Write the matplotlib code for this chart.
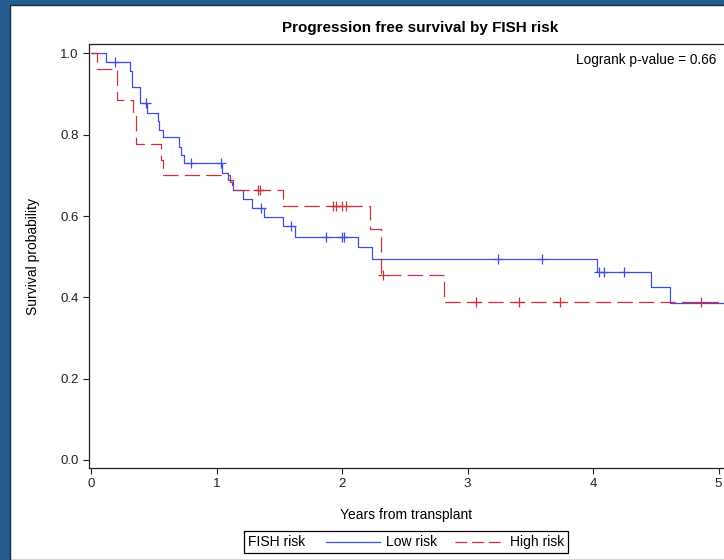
import numpy as np
import matplotlib
matplotlib.use('Agg')
import matplotlib.pyplot as plt
from matplotlib.patches import Rectangle
from matplotlib.lines import Line2D
from matplotlib.offsetbox import AnchoredOffsetbox, HPacker, TextArea, DrawingArea

plt.rcParams['font.family'] = ['Liberation Sans', 'DejaVu Sans']
plt.rcParams['lines.scale_dashes'] = False

# --- Kaplan-Meier step data ---
low_times = [0, 0.12, 0.31, 0.33, 0.39, 0.445, 0.53, 0.54, 0.57, 0.70, 0.72, 0.74,
             1.04, 1.09, 1.13, 1.21, 1.28, 1.38, 1.53, 1.625, 2.13, 2.24, 4.03, 4.46, 4.61]
low_surv = [1.0, 0.979, 0.958, 0.917, 0.877, 0.854, 0.834, 0.813, 0.794, 0.769, 0.750, 0.730,
            0.707, 0.690, 0.664, 0.641, 0.621, 0.599, 0.576, 0.549, 0.523, 0.495, 0.463, 0.426, 0.386]
low_censor = [0.19, 0.435, 0.80, 1.035, 1.355, 1.59, 1.87, 2.00, 2.015, 3.24, 3.59, 4.045, 4.09, 4.25]

high_times = [0, 0.05, 0.21, 0.335, 0.355, 0.56, 0.575, 1.105, 1.125, 1.53, 2.22, 2.31, 2.81]
high_surv = [1.0, 0.961, 0.886, 0.849, 0.777, 0.738, 0.701, 0.683, 0.664, 0.625, 0.568, 0.455, 0.389]
high_censor = [1.33, 1.35, 1.93, 1.95, 2.00, 2.03, 2.33, 3.07, 3.41, 3.74, 4.86]

t_end = 5.2
low_col = '#3b4fe0'
high_col = '#c8303c'


def surv_at(times, surv, t):
    idx = np.searchsorted(times, t, side='right') - 1
    return np.array(surv)[idx]


fig = plt.figure(figsize=(7.24, 5.60), dpi=100, facecolor='#255b8d')
fig.patches.append(Rectangle((10 / 724, 0), 1.0, 1 - 5 / 560, transform=fig.transFigure,
                             facecolor='white', edgecolor='#10304f', lw=1.0, zorder=-10))

ax = fig.add_axes([89 / 724, 1 - 468 / 560, (730 - 89) / 724, (468 - 44) / 560])
ax.set_facecolor('white')

# --- curves ---
ax.step(low_times + [t_end], low_surv + [low_surv[-1]], where='post', color=low_col, lw=0.9)
ax.step(high_times + [t_end], high_surv + [high_surv[-1]], where='post', color=high_col,
        lw=0.9, dashes=(11, 4.5))
ax.plot(low_censor, surv_at(low_times, low_surv, low_censor), '+', color=low_col, ms=7, mew=0.9)
ax.plot(high_censor, surv_at(high_times, high_surv, high_censor), '+', color=high_col, ms=7, mew=0.9)

ax.set_xlim((89 - 91) / 125.5, (730 - 91) / 125.5)
ax.set_ylim((460 - 468) / 406.5, (460 - 44) / 406.5)
ax.set_xticks([0, 1, 2, 3, 4, 5])
ax.set_yticks([0.0, 0.2, 0.4, 0.6, 0.8, 1.0])
ax.set_yticklabels(['0.0', '0.2', '0.4', '0.6', '0.8', '1.0'])
ax.tick_params(direction='out', length=4.5, width=0.8, labelsize=9.5, pad=3, colors='#222222')
for s in ax.spines.values():
    s.set_linewidth(0.9)
    s.set_color('#222222')

# --- texts ---
fig.text(420 / 724, 1 - 28 / 560, 'Progression free survival by FISH risk', ha='center', va='center',
         fontsize=11, fontweight='bold')
fig.text(716 / 724, 1 - 60 / 560, 'Logrank p-value = 0.66', ha='right', va='center', fontsize=9.8)
fig.text(406 / 724, 1 - 515 / 560, 'Years from transplant', ha='center', va='center', fontsize=10)
fig.text(33 / 724, 1 - 257 / 560, 'Survival probability', ha='center', va='center',
         rotation=90, fontsize=10)

# --- legend ---
da1 = DrawingArea(58.3, 8, 0, 0)
da1.add_artist(Line2D([15.1, 54.0], [4, 4], color=low_col, lw=0.9))
da2 = DrawingArea(51.8, 8, 0, 0)
da2.add_artist(Line2D([12.2, 44.6], [4, 4], color=high_col, lw=0.9, dashes=(8.5, 3.5)))
items = [TextArea('FISH risk', textprops=dict(fontsize=10)), da1,
         TextArea('Low risk', textprops=dict(fontsize=10)), da2,
         TextArea('High risk', textprops=dict(fontsize=10))]
box = HPacker(children=items, align='center', pad=0, sep=0)
anch = AnchoredOffsetbox(loc='center', child=box, pad=0.3, borderpad=0, frameon=True,
                         bbox_to_anchor=(406 / 724, 18 / 560), bbox_transform=fig.transFigure)
anch.patch.set_boxstyle('square', pad=0)
anch.patch.set_edgecolor('black')
anch.patch.set_linewidth(0.9)
fig.add_artist(anch)

fig.savefig('out.png', dpi=100, facecolor=fig.get_facecolor())
